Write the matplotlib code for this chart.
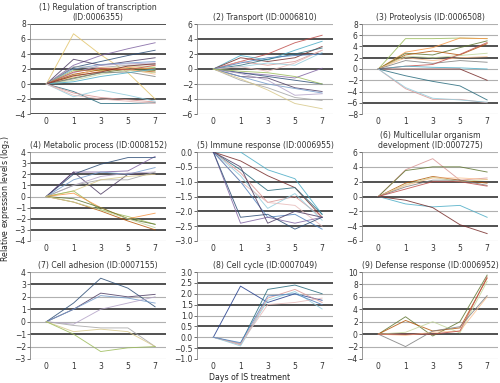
import matplotlib
matplotlib.use("Agg")
import matplotlib.pyplot as plt

days = ["0", "1", "3", "5", "7"]

titles = [
    "(1) Regulation of transcription\n(ID:0006355)",
    "(2) Transport (ID:0006810)",
    "(3) Proteolysis (ID:0006508)",
    "(4) Metabolic process (ID:0008152)",
    "(5) Immune response (ID:0006955)",
    "(6) Multicellular organism\ndevelopment (ID:0007275)",
    "(7) Cell adhesion (ID:0007155)",
    "(8) Cell cycle (ID:0007049)",
    "(9) Defense response (ID:0006952)",
]

p1 = [
    [0, 6.7, 3.9, 1.5, -2.0], [0, 2.5, 3.8, 4.7, 5.5], [0, 2.2, 3.0, 3.8, 4.5],
    [0, 3.3, 2.5, 3.0, 3.5], [0, 2.0, 2.6, 2.8, 3.0], [0, 1.5, 2.5, 2.7, 2.8],
    [0, 2.3, 2.2, 2.5, 2.6], [0, 1.2, 2.0, 2.3, 2.4], [0, 1.8, 1.8, 2.0, 2.2],
    [0, 1.0, 1.7, 2.2, 2.0], [0, 0.8, 1.5, 2.0, 1.8], [0, 1.3, 1.9, 1.9, 1.6],
    [0, 0.5, 1.3, 1.8, 1.5], [0, 1.0, 2.2, 2.0, 1.3], [0, 0.7, 1.5, 1.6, 1.0],
    [0, 1.6, 2.1, 1.9, 2.5], [0, 0.3, 1.0, 1.5, 2.0], [0, 1.1, 1.6, 2.4, 2.7],
    [0, -1.0, -2.6, -2.6, -2.5], [0, -1.2, -1.8, -2.1, -2.4],
    [0, -1.7, -0.8, -1.5, -2.3], [0, -1.5, -2.0, -2.3, -2.6],
]
p2 = [
    [0, 1.0, 2.0, 3.5, 4.5], [0, 1.8, 1.2, 2.5, 3.7], [0, 1.5, 1.0, 1.5, 3.0],
    [0, 0.5, 1.3, 2.0, 2.8], [0, 1.0, 0.5, 1.0, 2.5], [0, 0.3, 0.8, 0.5, 2.2],
    [0, 0.3, -0.3, 0.8, 2.5], [0, 0.8, 1.5, 1.8, 2.0], [0, -0.5, -0.8, -1.2, 0.1],
    [0, -0.5, -1.0, -1.5, -2.0], [0, -1.0, -1.2, -2.5, -3.0],
    [0, -1.0, -2.0, -2.6, -3.2], [0, -0.6, -1.5, -3.5, -3.3],
    [0, -1.5, -2.5, -3.8, -4.2], [0, -1.3, -2.8, -4.6, -5.3],
    [0, -0.3, -0.5, -1.0, -2.0],
]
p3 = [
    [0, 5.4, 5.4, 5.5, 5.4], [0, 3.0, 3.8, 5.5, 5.4], [0, 2.8, 2.5, 3.8, 5.0],
    [0, 2.5, 3.2, 2.5, 4.5], [0, 2.3, 2.0, 2.4, 2.8], [0, 2.0, 1.5, 2.0, 2.2],
    [0, 1.5, 1.0, 1.5, 1.2], [0, 0.5, 0.8, 2.6, 4.7], [0, 0.5, 0.3, 0.2, 0.0],
    [0, 0.0, 0.0, 0.0, -2.0], [0, -1.2, -2.2, -3.0, -5.5],
    [0, -3.5, -5.4, -5.4, -6.0], [0, -3.3, -5.2, -5.5, -5.9],
]
p4 = [
    [0, 2.2, 2.2, 2.3, 3.6], [0, 2.0, 2.9, 3.5, 3.5], [0, 2.2, 0.2, 2.0, 2.0],
    [0, 1.5, 2.2, 2.0, 2.6], [0, 1.0, 1.8, 2.1, 2.2], [0, 1.0, 1.5, 1.5, 2.2],
    [0, 0.5, 1.5, 1.8, 2.0], [0, 0.5, -1.2, -1.8, -2.5], [0, 0.3, -1.0, -2.0, -1.5],
    [0, -0.2, -1.0, -2.0, -2.5], [0, -0.5, -1.3, -2.2, -3.0],
    [0, -0.5, -1.2, -2.0, -2.8],
]
p5 = [
    [0, 0.0, -0.6, -0.9, -2.1], [0, -0.3, -0.8, -1.2, -2.2],
    [0, -0.6, -1.3, -1.2, -2.1], [0, -0.7, -1.7, -1.5, -2.2],
    [0, -0.8, -1.9, -1.4, -2.3], [0, -1.0, -1.7, -1.8, -2.5],
    [0, -1.0, -2.2, -2.1, -2.6], [0, -2.4, -2.2, -2.4, -2.2],
    [0, -2.2, -2.1, -2.6, -2.2], [0, -0.5, -2.4, -2.0, -2.2],
]
p6 = [
    [0, 3.6, 5.1, 2.2, 2.5], [0, 3.5, 4.0, 4.0, 3.3], [0, 1.8, 2.7, 2.2, 1.8],
    [0, 1.6, 2.6, 2.0, 2.3], [0, 1.5, 2.5, 2.5, 2.3], [0, 1.3, 2.2, 2.2, 1.5],
    [0, 1.0, 2.0, 2.0, 1.4], [0, -1.0, -1.4, -1.2, -2.8],
    [0, -0.5, -1.5, -3.8, -5.0],
]
p7 = [
    [0, 1.5, 3.5, 2.7, 1.2], [0, 1.0, 2.3, 2.0, 2.2], [0, 1.0, 2.1, 1.9, 1.5],
    [0, -0.2, 1.0, 1.5, 2.0], [0, -0.3, -0.5, -0.5, -2.0],
    [0, -0.8, -0.6, -0.8, -2.0], [0, -1.0, -2.4, -2.1, -2.0],
]
p8 = [
    [0, 2.35, 1.6, 2.0, 1.7], [0, -0.3, 2.2, 2.4, 2.0], [0, -0.35, 1.8, 2.2, 1.6],
    [0, -0.4, 1.7, 2.1, 1.3], [0, -0.3, 1.5, 1.6, 1.8], [0, -0.25, 1.9, 2.0, 1.5],
]
p9 = [
    [0, 2.8, -0.3, 2.0, 9.5], [0, 2.2, 0.5, 1.0, 9.0], [0, 0.3, 2.0, 0.2, 8.5],
    [0, -0.2, 0.3, 0.5, 6.0], [0, -2.0, 0.5, 1.2, 6.2], [0, 0.0, 0.0, 0.5, 9.2],
]

panels = [p1, p2, p3, p4, p5, p6, p7, p8, p9]

yticks = [
    [8, 6, 4, 2, 0, -2, -4],
    [6, 4, 2, 0, -2, -4, -6],
    [8, 6, 4, 2, 0, -2, -4, -6, -8],
    [4, 3, 2, 1, 0, -1, -2, -3, -4],
    [0.0, -0.5, -1.0, -1.5, -2.0, -2.5, -3.0],
    [6, 4, 2, 0, -2, -4, -6],
    [4, 3, 2, 1, 0, -1, -2, -3],
    [3.0, 2.5, 2.0, 1.5, 1.0, 0.5, 0.0, -0.5, -1.0],
    [10, 8, 6, 4, 2, 0, -2, -4],
]
yfmt = ["{:g}", "{:g}", "{:g}", "{:g}", "{:.1f}", "{:g}", "{:g}", "{:.1f}", "{:g}"]

# gridline darkness per tick (1 = dark, 0 = light)
gridstyle = [
    [1, 0, 1, 1, 1, 1, 1],
    [0, 1, 1, 1, 0, 0, 0],
    [0, 0, 1, 1, 0, 0, 0, 1, 0],
    [0, 1, 1, 1, 0, 1, 1, 1, 0],
    [0, 0, 1, 1, 1, 1, 0],
    [0, 0, 1, 1, 0, 1, 0],
    [0, 1, 0, 1, 0, 1, 0, 0],
    [0, 1, 0, 1, 0, 1, 0, 1, 0],
    [0, 0, 0, 1, 0, 1, 0, 0],
]

colors = ['#4F81BD', '#C0504D', '#9BBB59', '#8064A2', '#4BACC6', '#F79646',
          '#2C4D75', '#772C2A', '#5F7530', '#4D3B62', '#276A7C', '#B65708',
          '#729ACA', '#D99694', '#C3D69B', '#B3A2C7', '#93CDDD', '#FAC090',
          '#A5A5A5', '#E6B9B8', '#7F7F7F', '#D7C88A']
first_colors = {0: '#E2C46A', 5: '#D99694', 7: '#1F3A8A'}

fig = plt.figure(figsize=(5.0, 3.83), dpi=100)
W, H = 500.0, 383.0
lefts = [30, 197, 362]
rows = [(24, 114), (152, 241), (272, 359)]
width = 136

for i, data in enumerate(panels):
    r, c = divmod(i, 3)
    top, bot = rows[r]
    ax = fig.add_axes([lefts[c] / W, 1 - bot / H, width / W, (bot - top) / H])
    yt = yticks[i]
    for k, yv in enumerate(yt):
        dark = gridstyle[i][k]
        ax.axhline(yv, color='#222222' if dark else '#b0b0b0',
                   lw=1.1 if dark else 0.8, zorder=0)
    x = list(range(len(days)))
    for j, s in enumerate(data):
        col = colors[(j * 3 + i) % len(colors)]
        if j == 0 and i in first_colors:
            col = first_colors[i]
        ax.plot(x, s, color=col, lw=0.65, alpha=0.85, zorder=2)
    ax.set_xlim(-0.6, 4.4)
    ax.set_ylim(min(yt), max(yt))
    ax.set_yticks(yt)
    ax.set_yticklabels([yfmt[i].format(v).replace('-', '\u2212') for v in yt])
    ax.set_xticks(x)
    ax.set_xticklabels(days)
    ax.tick_params(axis='both', labelsize=5.5, length=2, width=0.5,
                   colors='#333333', pad=1)
    ax.tick_params(axis='x', length=0, pad=2)
    for sp in ['top', 'right', 'bottom']:
        ax.spines[sp].set_visible(False)
    ax.spines['left'].set_color('#888888')
    ax.spines['left'].set_linewidth(0.6)
    ax.set_title(titles[i], fontsize=5.6, pad=3, color='#333333', linespacing=1.1)

fig.text(0.011, 0.48, "Relative expression levels (log$_2$)", rotation=90,
         ha='center', va='center', fontsize=5.6, color='#222222')
fig.text(0.5, 0.003, "Days of IS treatment", ha='center', va='bottom',
         fontsize=5.6, color='#222222')

fig.savefig("out.png", dpi=100)
